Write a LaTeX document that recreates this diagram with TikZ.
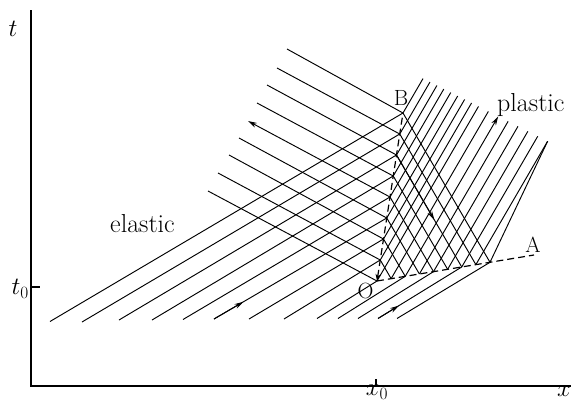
\documentclass[tikz,border=0pt]{standalone}
\usetikzlibrary{arrows.meta,calc,intersections}
\begin{document}
\begin{tikzpicture}[x=1pt,y=-1pt,
  charline/.style={line width=0.95pt},
  axisline/.style={line width=2.2pt},
  bound/.style={line width=1.2pt,dash pattern=on 7pt off 4pt},
  arr/.style={-{Stealth[length=9pt,width=5pt]}},
  bigtxt/.style={font=\fontsize{26}{31}\selectfont,inner sep=0pt},
  lettxt/.style={font=\fontsize{22}{26}\selectfont,inner sep=0pt},
  mathtxt/.style={font=\fontsize{25}{30}\selectfont,inner sep=0pt}]
\useasboundingbox (0,0) rectangle (571,402);
% axes
\coordinate (origin) at (31,386);
\coordinate (ttop) at (31,10);
\coordinate (xend) at (571,386);
\draw[axisline] (ttop) -- (origin) -- (xend);
\coordinate (tz) at (31,287);
\coordinate (tzr) at (40,287);
\draw[line width=1.3pt] (tz) -- (tzr);
\coordinate (xz) at (376,386);
\coordinate (xzu) at (376,379);
\draw[line width=1.3pt] (xz) -- (xzu);
\node[mathtxt] (tl) at (13,29) {$t$};
\node[mathtxt,anchor=east] (t0l) at (29,289) {$t_0$};
\node[mathtxt,anchor=north,font=\fontsize{23}{27}\selectfont] (x0l) at (377,385) {$x_0$};
\node[mathtxt] (xl) at (564,391) {$x$};
% key points
\coordinate (O) at (377,281);
\coordinate (B) at (403,113);
\coordinate (K) at (490,262.3);
\coordinate (Aend) at (534,255);
\coordinate (T1) at (416,75);
\coordinate (T2) at (557,146);
\path[name path=topline] (T1) -- (T2);
\foreach \i in {0,...,8}{
  \coordinate (P\i) at ($(O)!\i/8!(B)$);
  \coordinate (Q\i) at ($(O)!\i/8!(K)$);
}
% elastic rising lines
\foreach \e/\bx/\by in {P8/50/321.5,P7/82/322,P6/119/320,P5/152/320,P4/183/319.5,P3/214/319,P2/249/319,P1/284/319,P0/317/318.5,Q2/338/318.5,Q4/358/318.5,Q6/378/318.5,Q8/397/318.5}{
  \coordinate (r\e) at (\bx,\by);
  \draw[charline] (r\e) -- (\e);
}
\draw[charline,arr] (rP3) -- ($(rP3)!0.17!(P3)$);
\draw[charline,arr] (rQ6) -- ($(rQ6)!0.25!(Q6)$);
% elastic reflected lines
\foreach \e/\sx/\sy in {P8/287/49,P7/277/68,P6/267/85,P5/257/103,P3/239/138,P2/229/155,P1/218/173,P0/208/191}{
  \coordinate (d\e) at (\sx,\sy);
  \draw[charline] (\e) -- (d\e);
}
\coordinate (dP4) at (248,121);
\draw[charline,arr] (P4) -- (dP4);
% plastic lines from OB to OA
\foreach \i in {1,...,8}{
  \draw[charline] (P\i) -- (Q\i);
}
\draw[charline,arr] (P6) -- ($(P6)!0.58!(Q6)$);
% steep plastic lines
\foreach \i in {0,...,8}{
  \path[name path=lnP] (P\i) -- ($(P\i)+(200,-344)$);
  \path[name intersections={of=lnP and topline,by={tP\i}}];
  \draw[charline] (P\i) -- (tP\i);
}
\foreach \i in {1,...,8}{
  \path[name path=lnQ] (Q\i) -- ($(Q\i)+(200,-344)$);
  \path[name intersections={of=lnQ and topline,by={tQ\i}}];
}
\foreach \i in {1,3,4,5,6,7,8}{
  \draw[charline] (Q\i) -- (tQ\i);
}
\draw[charline,arr] (Q2) -- (tQ2);
% boundaries
\draw[bound,{Stealth[length=7pt,width=5pt]}-] (O) -- (B);
\draw[bound] (O) -- (Aend);
% labels
\node[bigtxt,anchor=base west] (el) at (110,232) {elastic};
\node[bigtxt,anchor=base west] (pl) at (497,111) {plastic};
\node[lettxt] (Bl) at (401,98) {B};
\node[lettxt] (Al) at (533,245) {A};
\node[lettxt] (Ol) at (365.5,290.5) {O};
\end{tikzpicture}
\end{document}
